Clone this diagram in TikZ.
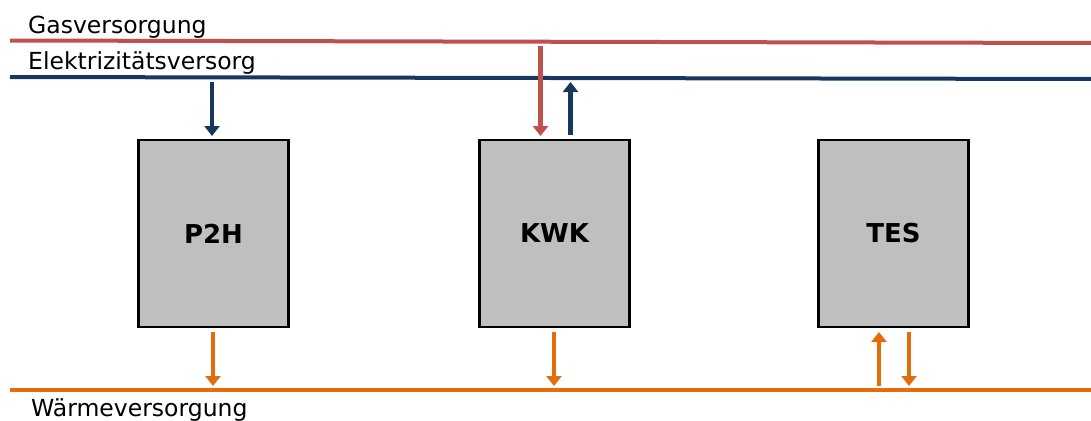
\documentclass[tikz,border=0pt]{standalone}
\usepackage{fontspec}
\setmainfont{DejaVu Sans}
\usetikzlibrary{arrows.meta}
\definecolor{gasred}{HTML}{C0504D}
\definecolor{elblue}{HTML}{17375E}
\definecolor{heatorange}{HTML}{E46C0A}
\definecolor{boxgray}{HTML}{BFBFBF}
\begin{document}
\begin{tikzpicture}[x=1pt,y=-1pt,
  supply/.style={line width=4pt},
  flow/.style={line width=4.5pt,-{Triangle[width=15pt,length=10pt]}},
  unit/.style={draw=black,line width=2.2pt,fill=boxgray,minimum width=150pt,minimum height=187pt,inner sep=0pt,
    font=\fontsize{26}{30}\selectfont\bfseries},
  caption/.style={anchor=base west,inner sep=0pt,font=\fontsize{23.5}{28}\selectfont}]
\useasboundingbox (0,0) rectangle (1091,420);
% supply lines
\coordinate (gasL) at (10,40.5);
\coordinate (gasR) at (1091,43);
\coordinate (elL) at (10,77);
\coordinate (elR) at (1091,79);
\coordinate (heatL) at (10,390);
\coordinate (heatR) at (1091,390);
\draw[supply,gasred] (gasL) -- (gasR);
\draw[supply,elblue] (elL) -- (elR);
\draw[supply,heatorange] (heatL) -- (heatR);
% captions
\node[caption] (gastxt) at (28,34) {Gasversorgung};
\node[caption] (eltxt) at (28,70) {Elektrizitätsversorg};
\node[caption] (heattxt) at (31,416) {Wärmeversorgung};
% units
\node[unit] (p2h) at (213.5,233.5) {P2H};
\node[unit] (kwk) at (554.5,233.5) {KWK};
\node[unit] (tes) at (893.5,233.5) {TES};
% connector end points
\coordinate (p2hIn) at (212,82);
\coordinate (kwkGas) at (540.5,46);
\coordinate (kwkEl) at (570.5,82);
\coordinate (p2hOut) at (213,386);
\coordinate (kwkOut) at (554,386);
\coordinate (tesIn) at (879,386);
\coordinate (tesOut) at (909,386);
% flows
\draw[flow,elblue] (p2hIn) -- (212,136);
\draw[flow,gasred] (kwkGas) -- (540.5,136);
\draw[flow,elblue] (570.5,135) -- (kwkEl);
\draw[flow,heatorange] (213,332) -- (p2hOut);
\draw[flow,heatorange] (554,332) -- (kwkOut);
\draw[flow,heatorange] (tesIn) -- (879,332);
\draw[flow,heatorange] (909,332) -- (tesOut);
\end{tikzpicture}
\end{document}
